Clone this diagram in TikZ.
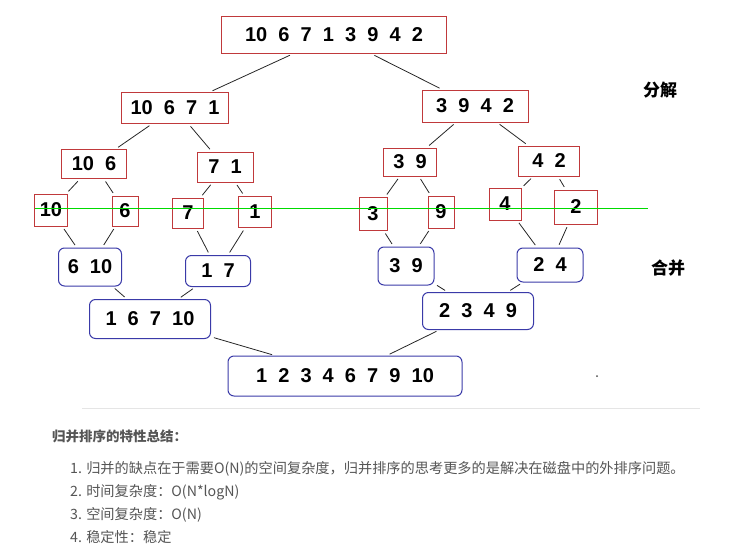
\documentclass[tikz,border=0pt]{standalone}
\usepackage{fontspec}
\setmainfont{Liberation Sans}
\newfontfamily\cjk{Noto Sans CJK SC}
\definecolor{rb}{HTML}{C0393B}
\definecolor{bb}{HTML}{3A3AA8}
\definecolor{tx}{HTML}{555555}
\begin{document}
\begin{tikzpicture}[x=1pt,y=-1pt,
  num/.style={font=\fontsize{20}{21}\selectfont\bfseries, inner sep=0pt},
  rbox/.style={num,draw=rb,line width=1pt,minimum height=29pt,inner xsep=5pt},
  bbox/.style={num,draw=bb,line width=1pt,rounded corners=6pt,minimum height=36pt,inner xsep=8pt},
  con/.style={draw=black!85,line width=0.8pt,shorten >=3pt,shorten <=3pt},
  lbl/.style={font=\cjk\fontsize{17}{18}\selectfont\bfseries},
  txt/.style={font=\cjk\fontsize{14.2}{16}\selectfont,text=tx,anchor=west,inner sep=0pt}]
\useasboundingbox (0,0) rectangle (740,555);
\node[rbox,minimum width=225pt,minimum height=37pt] (t) at (334,35) {10\ \ 6\ \ 7\ \ 1\ \ 3\ \ 9\ \ 4\ \ 2};
\node[rbox,minimum width=107pt,minimum height=31pt] (a) at (175,108) {10\ \ 6\ \ 7\ \ 1};
\node[rbox,minimum width=106pt,minimum height=32pt] (b) at (475,106) {3\ \ 9\ \ 4\ \ 2};
\node[rbox,minimum width=65pt] (aa) at (94,164) {10\ \ 6};
\node[rbox,minimum width=56pt,minimum height=30pt] (ab) at (225,167) {7\ \ 1};
\node[rbox,minimum width=53pt,minimum height=28pt] (ba) at (410,162) {3\ \ 9};
\node[rbox,minimum width=61pt,minimum height=30pt] (bb) at (549,161) {4\ \ 2};
\node[rbox,minimum width=29pt,minimum height=32pt] (l1) at (51,210) {10};
\node[rbox,minimum width=26pt,minimum height=30pt] (l2) at (125,211) {6};
\node[rbox,minimum width=31pt,minimum height=30pt] (l3) at (188,213) {7};
\node[rbox,minimum width=33pt,minimum height=31pt] (l4) at (255,212) {1};
\node[rbox,minimum width=28pt,minimum height=33pt] (l5) at (373,214) {3};
\node[rbox,minimum width=26pt,minimum height=32pt] (l6) at (441,212) {9};
\node[rbox,minimum width=32pt,minimum height=32pt] (l7) at (505,204) {4};
\node[rbox,minimum width=43pt,minimum height=34pt] (l8) at (576,207) {2};
\coordinate (g1) at (35,208); \coordinate (g2) at (648,208);
\draw[green!80!black!70!green,line width=1pt] (g1) -- (g2);
\node[bbox,minimum width=63pt,minimum height=38pt] (m1) at (90,267) {6\ \ 10};
\node[bbox,minimum width=65pt,minimum height=31pt] (m2) at (218,271) {1\ \ 7};
\node[bbox,minimum width=56pt,minimum height=38pt] (m3) at (406,266) {3\ \ 9};
\node[bbox,minimum width=66pt,minimum height=34pt] (m4) at (550,265) {2\ \ 4};
\node[bbox,minimum width=121pt,minimum height=39pt] (n1) at (150,319) {1\ \ 6\ \ 7\ \ 10};
\node[bbox,minimum width=111pt,minimum height=37pt] (n2) at (478,311) {2\ \ 3\ \ 4\ \ 9};
\node[bbox,minimum width=234pt,minimum height=40pt] (f) at (345,376) {1\ \ 2\ \ 3\ \ 4\ \ 6\ \ 7\ \ 9\ \ 10};
\foreach \u/\v in {t/a,t/b,a/aa,a/ab,b/ba,b/bb,aa/l1,aa/l2,ab/l3,ab/l4,ba/l5,ba/l6,bb/l7,bb/l8,
  l1/m1,l2/m1,l3/m2,l4/m2,l5/m3,l6/m3,l7/m4,l8/m4,m1/n1,m2/n1,m3/n2,m4/n2,n1/f,n2/f}
  \path[con] (\u) -- (\v);
\node[lbl] (fj) at (660,90) {分解};
\node[lbl] (hb) at (668,268) {合并};
\fill[black!70] (597,376) circle (1pt);
\draw[black!10,line width=0.8pt] (82,408) -- (700,408);
\node[txt,font=\cjk\fontsize{13.5}{15}\selectfont\bfseries] (h) at (52,436) {归并排序的特性总结：};
\node[txt] (i1) at (70,469) {1. 归并的缺点在于需要O(N)的空间复杂度，归并排序的思考更多的是解决在磁盘中的外排序问题。};
\node[txt] (i2) at (70,492) {2. 时间复杂度：O(N*logN)};
\node[txt] (i3) at (70,515) {3. 空间复杂度：O(N)};
\node[txt] (i4) at (70,537) {4. 稳定性：稳定};
\end{tikzpicture}
\end{document}
